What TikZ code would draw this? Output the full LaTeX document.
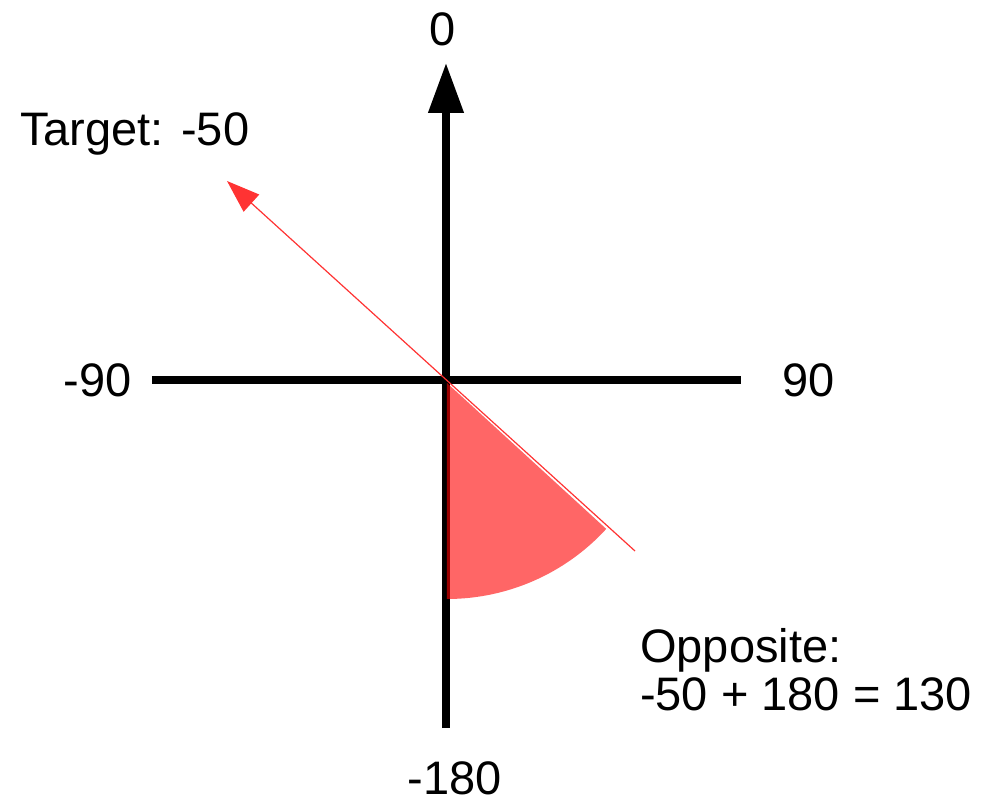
\documentclass[tikz,border=0pt]{standalone}
\usepackage{fontspec}
\setmainfont{Liberation Sans}
\usepackage{tikz}
\usetikzlibrary{positioning,arrows.meta}

\begin{document}
\begin{tikzpicture}[x=1pt,y=1pt,
        axis/.style={line width=7.5pt, black},
        lbl/.style={inner sep=0pt, font=\fontsize{47}{48}\selectfont}]
        \useasboundingbox (-446,-417) rectangle (542,380);

        % axis ends
        \coordinate (origin) at (0,0);
        \coordinate (top) at (0,317);
        \coordinate (bottom) at (0,-348);
        \coordinate (left) at (-294,0);
        \coordinate (right) at (295,0);
        \coordinate (target) at (-219,199);
        \coordinate (tail) at (189,-171);

        \draw[axis] (left) -- (right);
        \draw[axis, -{Triangle[length=50pt,width=34pt]}] (bottom) -- (top);

        % opposite sector
        \fill[red, fill opacity=0.6] (1,-3) -- ++(-90:216) arc (-90:-42.5:216) -- cycle;

        \draw[red!80, line width=1.2pt, -{Triangle[length=33pt,width=23pt]}] (tail) -- (target);

        \node (zero) [lbl, above=17pt of top, xshift=-3pt] {0};
        \node (minusNinety) [lbl, left=20pt of left] {-90};
        \node (ninety) [lbl, right=41pt of right] {90};
        \node (minusOneEighty) [lbl, below=33pt of bottom, xshift=9pt] {-180};
        \node (targetLabel) [lbl, anchor=base west] at (-426,234) {Target: -50};
        \node (opposite) [lbl, anchor=north west, align=left] at (194,-248) {Opposite:\\-50 + 180 = 130};
    \end{tikzpicture}
\end{document}
